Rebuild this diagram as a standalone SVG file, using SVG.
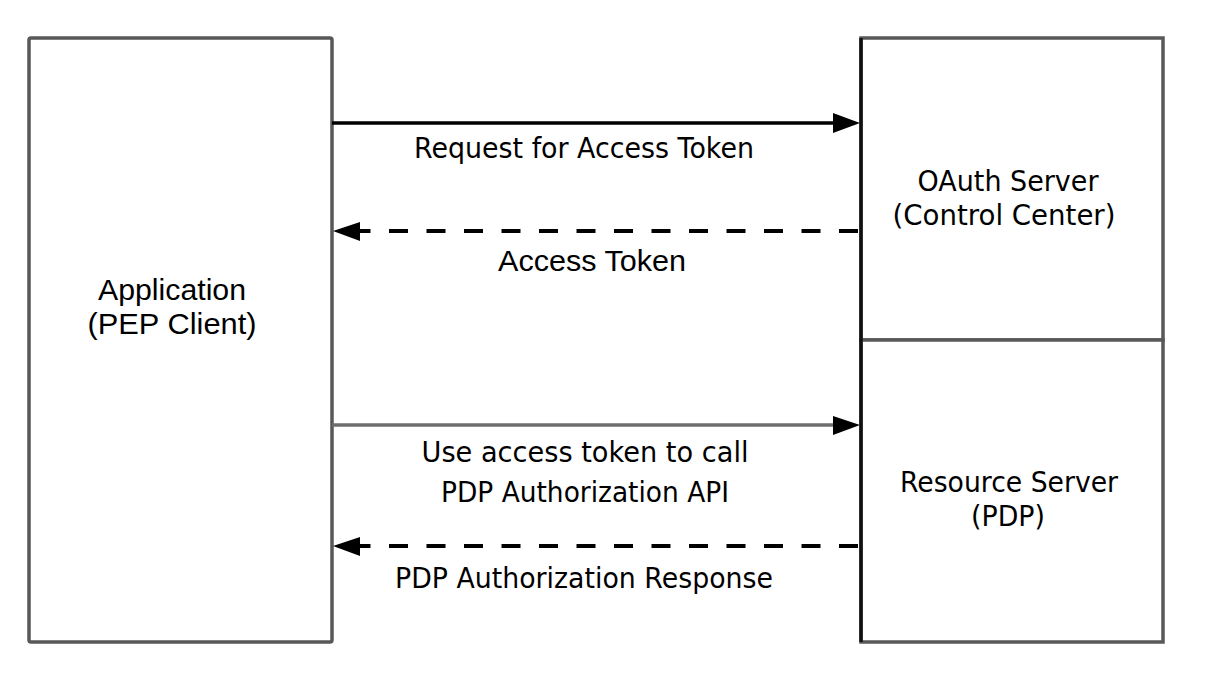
<svg xmlns="http://www.w3.org/2000/svg" width="1205" height="673" viewBox="0 0 1205 673">
<style>
.box{fill:#fff;stroke:#585858;stroke-width:3.5}
.t1{font-family:"Liberation Sans",Arial,sans-serif;font-size:30px;fill:#000;text-anchor:middle}
.t2{font-family:"DejaVu Sans",Verdana,sans-serif;font-size:27.5px;fill:#000;text-anchor:middle}
.solid{stroke:#000;stroke-width:3.5;fill:none}
.gray{stroke:#6e6e6e;stroke-width:3.5;fill:none}
.dash{stroke:#000;stroke-width:4;fill:none;stroke-dasharray:19 18.5}
.head{fill:#000}
</style>
<rect width="1205" height="673" fill="#fff"/>
<g id="application">
<rect class="box" x="29" y="38" width="303" height="604" rx="2"/>
<text class="t1" x="172" y="300" textLength="148" lengthAdjust="spacingAndGlyphs">Application</text>
<text class="t1" x="172" y="334" textLength="169" lengthAdjust="spacingAndGlyphs">(PEP Client)</text>
</g>
<g id="oauth-server">
<rect class="box" x="861" y="38" width="302" height="302"/>
<text class="t2" x="1008" y="191" textLength="181" lengthAdjust="spacingAndGlyphs">OAuth Server</text>
<text class="t2" x="1004" y="225" textLength="223" lengthAdjust="spacingAndGlyphs">(Control Center)</text>
</g>
<g id="resource-server">
<rect class="box" x="861" y="340" width="302" height="302"/>
<text class="t2" x="1009" y="492" textLength="218" lengthAdjust="spacingAndGlyphs">Resource Server</text>
<text class="t2" x="1008" y="526" textLength="74" lengthAdjust="spacingAndGlyphs">(PDP)</text>
</g>
<line x1="861" y1="38" x2="861" y2="642" stroke="#111" stroke-width="3.5"/>
<g id="connectors">
<line class="solid" x1="332" y1="123" x2="836" y2="123"/>
<polygon class="head" points="860,123 833,113 833,133"/>
<text class="t2" x="584" y="158" textLength="340" lengthAdjust="spacingAndGlyphs">Request for Access Token</text>
<line class="dash" x1="858" y1="231" x2="358" y2="231"/>
<polygon class="head" points="333,231 360,222 360,241"/>
<text class="t1" x="592" y="271" textLength="188" lengthAdjust="spacingAndGlyphs">Access Token</text>
<line class="gray" x1="332" y1="425" x2="836" y2="425"/>
<polygon class="head" points="860,425 833,416 833,435"/>
<text class="t2" x="585" y="462" textLength="327" lengthAdjust="spacingAndGlyphs">Use access token to call</text>
<text class="t2" x="585" y="502" textLength="288" lengthAdjust="spacingAndGlyphs">PDP Authorization API</text>
<line class="dash" x1="858" y1="546" x2="358" y2="546"/>
<polygon class="head" points="333,546 360,537 360,556"/>
<text class="t2" x="584" y="588" textLength="378" lengthAdjust="spacingAndGlyphs">PDP Authorization Response</text>
</g>
</svg>
